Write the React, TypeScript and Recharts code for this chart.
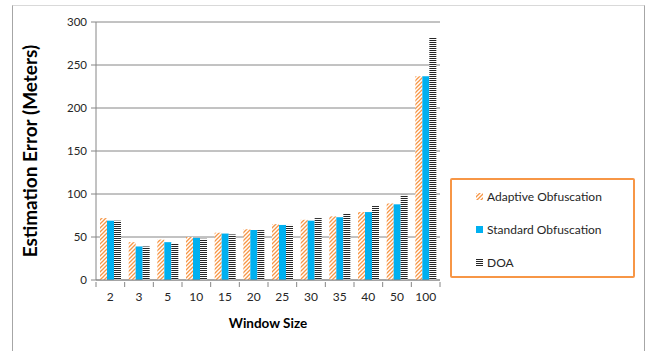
import React from 'react';
import { BarChart, Bar, XAxis, YAxis, CartesianGrid, Legend } from 'recharts';

// window sizes on the x axis
const windowSizes = ['2', '3', '5', '10', '15', '20', '25', '30', '35', '40', '50', '100'];
const adaptive = [72, 44, 47, 50, 55, 59, 65, 70, 74, 79, 89, 237];
const standard = [69, 39, 44, 49, 54, 58, 64, 69, 73, 79, 88, 237];
const doa = [69, 39, 43, 48, 53, 58, 64, 72, 77, 86, 99, 282];
const yTicks = [0, 50, 100, 150, 200, 250, 300];

const data = windowSizes.map((w, i) => ({
  name: w,
  adaptive: adaptive[i],
  standard: standard[i],
  doa: doa[i],
}));

const W = 647;
const H = 351;
const margin = { top: 22, right: 207, bottom: 41, left: 0 };
const yAxisW = 96;
const band = (W - margin.right - margin.left - yAxisW) / windowSizes.length;

const FONT = 'Lato, "Open Sans", sans-serif';
const ORANGE = '#f79646';
const BLUE = '#00b0f0';
const AXIS = '#868686';

const XTick = (props: any) => {
  const { x, y, payload, index } = props;
  const top = y - 5;
  return (
    <g>
      <line x1={x - band / 2} y1={top} x2={x - band / 2} y2={top + 5} stroke={AXIS} />
      {index === windowSizes.length - 1 && (
        <line x1={x + band / 2} y1={top} x2={x + band / 2} y2={top + 5} stroke={AXIS} />
      )}
      <text x={x} y={y + 14} textAnchor="middle" fontSize={12} fill="#262626" fontFamily={FONT}>
        {payload.value}
      </text>
    </g>
  );
};

const legendItems = [
  { label: 'Adaptive Obfuscation', fill: 'url(#hatch)' },
  { label: 'Standard Obfuscation', fill: BLUE },
  { label: 'DOA', fill: 'url(#stripes)' },
];

const LegendBox = () => (
  <div
    style={{
      width: 185,
      height: 100,
      border: `2.5px solid ${ORANGE}`,
      borderRadius: 2,
      boxSizing: 'border-box',
      background: '#fff',
      fontFamily: FONT,
      fontSize: 12,
      color: '#262626',
    }}
  >
    {legendItems.map((it) => (
      <div key={it.label} style={{ display: 'flex', alignItems: 'center', height: 33, paddingLeft: 24 }}>
        <svg width={7} height={7} style={{ marginRight: 4 }}>
          <rect x={0} y={0} width={7} height={7} fill={it.fill} />
        </svg>
        {it.label}
      </div>
    ))}
  </div>
);

export default function App() {
  return (
    <div style={{ position: 'absolute', left: 0, top: 0, width: W, height: H, background: '#fff', overflow: 'hidden' }}>
      <div
        style={{
          position: 'absolute',
          left: 12,
          top: 5,
          width: 631,
          height: 380,
          borderLeft: '1px solid #a6a6a6',
          borderRight: '1px solid #a6a6a6',
          borderTop: '1px solid #d9d9d9',
        }}
      />
      <div style={{ position: 'absolute', left: 0, top: 0 }}>
        <BarChart width={W} height={H} data={data} margin={margin} barSize={7} barGap={0}>
          <defs>
            <pattern id="hatch" patternUnits="userSpaceOnUse" width={4} height={4}>
              <rect width={4} height={4} fill="#fff" />
              <path d="M-1,1 l2,-2 M0,4 l4,-4 M3,5 l2,-2" stroke={ORANGE} strokeWidth={1.3} />
            </pattern>
            <pattern id="stripes" patternUnits="userSpaceOnUse" width={4} height={2}>
              <rect width={4} height={2} fill="#fff" />
              <rect width={4} height={1} fill="#262626" />
            </pattern>
          </defs>
          <CartesianGrid vertical={false} stroke={AXIS} strokeWidth={1} />
          <XAxis
            dataKey="name"
            stroke={AXIS}
            tickLine={false}
            tickSize={5}
            tick={<XTick />}
            interval={0}
            label={{
              value: 'Window Size',
              position: 'bottom',
              offset: 8,
              style: { fontFamily: FONT, fontWeight: 'bold', fontSize: 13.5, fill: '#000' },
            }}
          />
          <YAxis
            width={yAxisW}
            domain={[0, 300]}
            ticks={yTicks}
            stroke={AXIS}
            tickSize={5}
            tickMargin={4}
            tick={{ fontSize: 11.5, fill: '#262626', fontFamily: FONT }}
            label={{
              value: 'Estimation Error (Meters)',
              angle: -90,
              position: 'insideLeft',
              offset: 30,
              style: { fontFamily: FONT, fontWeight: 'bold', fontSize: 19, fill: '#000', textAnchor: 'middle' },
            }}
          />
          <Legend
            layout="vertical"
            align="center"
            verticalAlign="middle"
            content={<LegendBox />}
            wrapperStyle={{ position: 'absolute', left: 450, top: 178, width: 185, height: 100 }}
          />
          <Bar dataKey="adaptive" name="Adaptive Obfuscation" fill="url(#hatch)" isAnimationActive={false} />
          <Bar dataKey="standard" name="Standard Obfuscation" fill={BLUE} isAnimationActive={false} />
          <Bar dataKey="doa" name="DOA" fill="url(#stripes)" isAnimationActive={false} />
        </BarChart>
      </div>
    </div>
  );
}
